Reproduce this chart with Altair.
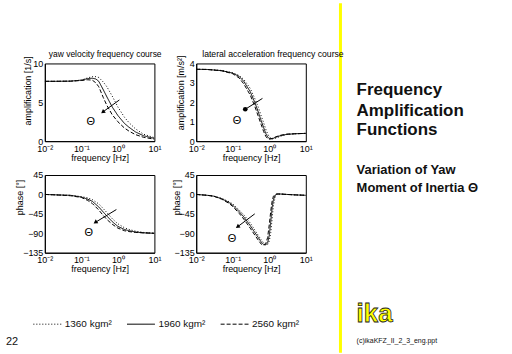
import altair as alt
import pandas as pd

FONT = "Liberation Sans"
SERIES = ["1360 kgm²", "1960 kgm²", "2560 kgm²"]
DASHES = [[1, 2], [1, 0], [4, 2]]

# --- panel 1: yaw velocity amplification [1/s]
f_yaw_amp = [0.01, 0.02, 0.05, 0.1, 0.15, 0.2, 0.25, 0.3, 0.4, 0.5, 0.7, 1, 1.5, 2, 3, 5, 10]
yaw_amp_1360 = [7.7, 7.7, 7.72, 7.85, 8.15, 8.3, 8.3, 8.2, 7.6, 7.0, 5.8, 4.4, 3.1, 2.4, 1.6, 0.9, 0.45]
yaw_amp_1960 = [7.7, 7.7, 7.72, 7.85, 8.05, 8.1, 8.0, 7.7, 6.6, 5.7, 4.4, 3.3, 2.3, 1.8, 1.2, 0.7, 0.35]
yaw_amp_2560 = [7.7, 7.7, 7.72, 7.8, 7.9, 7.85, 7.5, 7.0, 5.6, 4.6, 3.4, 2.5, 1.7, 1.3, 0.85, 0.5, 0.25]

# --- panel 2: lateral acceleration amplification
f_lat_amp = [0.01, 0.02, 0.05, 0.1, 0.15, 0.2, 0.3, 0.4, 0.5, 0.6, 0.7, 0.8, 0.9, 1.0, 1.2, 1.5, 2, 3, 5, 10]
lat_amp_1360 = [3.7, 3.69, 3.64, 3.52, 3.38, 3.18, 2.72, 2.2, 1.75, 1.3, 0.95, 0.62, 0.38, 0.22, 0.12, 0.15, 0.25, 0.34, 0.38, 0.4]
lat_amp_1960 = [3.7, 3.69, 3.63, 3.5, 3.33, 3.08, 2.55, 2.0, 1.5, 1.05, 0.7, 0.4, 0.22, 0.13, 0.12, 0.2, 0.28, 0.35, 0.38, 0.4]
lat_amp_2560 = [3.7, 3.69, 3.62, 3.47, 3.25, 2.95, 2.38, 1.8, 1.28, 0.85, 0.5, 0.25, 0.13, 0.1, 0.14, 0.22, 0.3, 0.36, 0.38, 0.4]

# --- panel 3: yaw velocity phase [deg]
f_yaw_ph = [0.01, 0.02, 0.05, 0.1, 0.15, 0.2, 0.3, 0.4, 0.5, 0.7, 1, 1.5, 2, 3, 5, 10]
yaw_ph_1360 = [0, -1, -2, -5, -8, -12, -22, -33, -42, -56, -68, -77, -81, -85, -88, -90]
yaw_ph_1960 = [0, -1, -2, -6, -11, -16, -29, -41, -50, -63, -74, -81, -84, -87, -89, -90]
yaw_ph_2560 = [0, -1, -3, -7, -14, -21, -36, -49, -58, -69, -78, -84, -86, -88, -89, -90]

# --- panel 4: lateral acceleration phase [deg]
f_lat_ph = [0.01, 0.02, 0.03, 0.05, 0.08, 0.1, 0.15, 0.2, 0.3, 0.4, 0.5, 0.6, 0.7, 0.8, 0.9,
            1.0, 1.1, 1.2, 1.3, 1.45, 1.6, 2, 3, 5, 10]
lat_ph_1360 = [0, -2, -4, -9, -17, -22, -36, -47, -66, -82, -95, -105, -112, -116, -116,
               -108, -88, -55, -25, -6, 0, 1, 0, -1, -2]
lat_ph_1960 = [0, -2, -4, -10, -19, -25, -40, -52, -72, -88, -100, -110, -116, -117, -112,
               -95, -62, -30, -12, -2, 1, 1, 0, -1, -2]
lat_ph_2560 = [0, -2, -4, -11, -21, -28, -44, -57, -78, -94, -106, -115, -118, -114, -100,
               -70, -38, -15, -4, 0, 1, 1, 0, -1, -2]

# arrows (start f, start v, end f, end v) and Θ label positions (f, v)
arrow_yaw_amp = [1.1, 5.3, 0.4, 3.8]
theta_yaw_amp = [0.18, 2.4]
arrow_lat_amp = [0.65, 2.2, 0.22, 1.64]
theta_lat_amp = [0.13, 1.03]
arrow_yaw_ph = [0.91, -35, 0.25, -64]
theta_yaw_ph = [0.16, -90]
arrow_lat_ph = [0.4, -45, 0.14, -74]
theta_lat_ph = [0.096, -104]

X_TICKS = [0.01, 0.1, 1, 10]
X_LABELS = "datum.value < 0.05 ? '10⁻²' : datum.value < 0.5 ? '10⁻¹' : datum.value < 5 ? '10⁰' : '10¹'"

PW, PH = 110, 78


def long_df(freqs, series_values):
    rows = []
    for name, vals in zip(SERIES, series_values):
        for f, v in zip(freqs, vals):
            rows.append({"f": f, "v": v, "series": name})
    return pd.DataFrame(rows)


def one():
    return pd.DataFrame({"k": [0]})


def txt(text, x, y, size, weight="normal", baseline="alphabetic", **kw):
    return alt.Chart(one()).mark_text(text=text, align="left", baseline=baseline,
                                      fontSize=size, fontWeight=weight, font=FONT,
                                      **kw).encode(x=alt.value(x), y=alt.value(y))


def panel(df, ydom, yvals, ytitle, title_x, title_y, arrow, theta, angle, head_shape,
          extras, legend=None):
    xaxis = alt.Axis(values=X_TICKS, labelExpr=X_LABELS, title="frequency [Hz]",
                     labelFlush=False, labelOverlap=False, ticks=False,
                     labelPadding=3, titlePadding=0)
    yaxis = alt.Axis(values=yvals, title=ytitle, labelFlush=False, labelOverlap=False,
                     ticks=False, labelPadding=2, titlePadding=0,
                     titleX=title_x, titleY=title_y)
    xs = alt.Scale(type="log", domain=[0.01, 10])
    ys = alt.Scale(domain=ydom, nice=False, zero=False)

    def X(field):
        return alt.X(field, scale=xs, axis=xaxis)

    def Y(field):
        return alt.Y(field, scale=ys, axis=yaxis)

    dash = alt.StrokeDash("series:N", scale=alt.Scale(domain=SERIES, range=DASHES),
                          legend=legend)
    lines = alt.Chart(df).mark_line(color="black", strokeWidth=1, clip=True).encode(
        x=X("f:Q"), y=Y("v:Q"), strokeDash=dash)

    adf = pd.DataFrame({"f": [arrow[0]], "v": [arrow[1]], "f2": [arrow[2]], "v2": [arrow[3]]})
    rule = alt.Chart(adf).mark_rule(color="black", strokeWidth=1).encode(
        x=X("f:Q"), y=Y("v:Q"), x2="f2:Q", y2="v2:Q")
    head = alt.Chart(adf).mark_point(shape=head_shape, filled=True, size=22, angle=angle,
                                     color="black", opacity=1).encode(
        x=X("f2:Q"), y=Y("v2:Q"))
    tdf = pd.DataFrame({"f": [theta[0]], "v": [theta[1]]})
    th = alt.Chart(tdf).mark_text(text="Θ", fontSize=11, font=FONT, color="black").encode(
        x=X("f:Q"), y=Y("v:Q"))

    layers = [lines, rule, head, th] + extras
    return alt.layer(*layers).properties(width=PW, height=PH)


# page anchors / annotations (pixel offsets relative to each panel's plot origin)
anchor = alt.Chart(one()).mark_rule(strokeOpacity=0, strokeWidth=0.1).encode(
    x=alt.value(-44), x2=alt.value(468), y=alt.value(-62))
yellow = alt.Chart(one()).mark_rule(color="#ffff00", strokeWidth=3).encode(
    x=alt.value(144.8), y=alt.value(-60.5), y2=alt.value(290.5))

extras1 = [anchor, txt("yaw velocity frequency course", 4, -6, 8.5, color="black")]
extras2 = [
    yellow,
    txt("lateral acceleration frequency course", 6, -6, 8.7, color="black"),
    txt("Frequency", 161, 31.3, 17, "bold", color="#111"),
    txt("Amplification", 161, 52.3, 17, "bold", color="#111"),
    txt("Functions", 161, 72.3, 17, "bold", color="#111"),
    txt("Variation of Yaw", 161, 111.3, 13, "bold", color="#111"),
    txt("Moment of Inertia Θ", 161, 128.7, 13, "bold", color="#111"),
]
extras3 = [txt("22", -39, 168, 11, baseline="middle", color="#111")]
extras4 = [
    txt("ika", 161, 148, 26, "bold", color="#ffff00", stroke="#222", strokeWidth=0.8),
    txt("(c)ikaKFZ_II_2_3_eng.ppt", 161, 167, 7, baseline="middle", color="#111"),
]

legend3 = alt.Legend(orient="none", legendX=-12, legendY=135, direction="horizontal",
                     columns=3, title=None, symbolType="stroke", symbolSize=784,
                     symbolStrokeWidth=1, symbolStrokeColor="black", labelFontSize=10,
                     labelFont=FONT, labelColor="#111", labelOffset=3, columnPadding=12,
                     padding=0)

p1 = panel(long_df(f_yaw_amp, [yaw_amp_1360, yaw_amp_1960, yaw_amp_2560]), [0, 10], [0, 5, 10],
           "amplification [1/s]", -12, 27, arrow_yaw_amp, theta_yaw_amp, 233, "triangle", extras1)
p2 = panel(long_df(f_lat_amp, [lat_amp_1360, lat_amp_1960, lat_amp_2560]), [0, 4], [0, 1, 2, 3, 4],
           "amplification [m/s²]", -11, 29, arrow_lat_amp, theta_lat_amp, 0, "circle", extras2)
p3 = panel(long_df(f_yaw_ph, [yaw_ph_1360, yaw_ph_1960, yaw_ph_2560]), [-135, 45],
           [-135, -90, -45, 0, 45], "phase [°]", -20, 22,
           arrow_yaw_ph, theta_yaw_ph, 237, "triangle", extras3, legend=legend3)
p4 = panel(long_df(f_lat_ph, [lat_ph_1360, lat_ph_1960, lat_ph_2560]), [-135, 45],
           [-135, -90, -45, 0, 45], "phase [°]", -15, 22,
           arrow_lat_ph, theta_lat_ph, 235, "triangle", extras4)

chart = alt.concat(p1, p2, p3, p4, columns=2, spacing={"row": 34, "column": 42},
                   bounds="flush").resolve_scale(
    x="independent", y="independent", strokeDash="independent"
).resolve_legend(strokeDash="independent").properties(
    padding=0, background="white"
).configure_view(stroke="black", strokeWidth=1).configure_axis(
    grid=False, domainColor="black", labelColor="black", titleColor="black",
    labelFont=FONT, titleFont=FONT, labelFontSize=9, titleFontSize=9,
    titleFontWeight="normal"
)

chart.save("out.html", embed_options={"renderer": "svg", "actions": False})
